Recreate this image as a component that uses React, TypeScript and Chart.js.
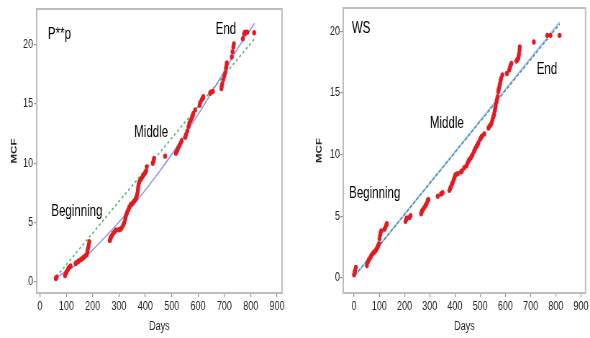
import React, { useEffect, useRef } from "react";
import { Chart, registerables } from "chart.js";

Chart.register(...registerables);

// Axis ticks shared by both panels
const dayTicks = [0, 100, 200, 300, 400, 500, 600, 700, 800, 900];
const mcfTicks = [0, 5, 10, 15, 20];

// P**p: observed cumulative MCF by day
const ppDays = [
  60, 63, 95, 99, 101, 105, 108, 112, 116, 135, 139, 146, 149, 156, 162, 167, 172, 177, 180, 181, 183, 185, 187,
  265, 266, 268, 270, 274, 278, 284, 289, 300, 305, 310, 316, 319, 323, 325, 327, 330, 332, 336, 339, 344, 348,
  352, 357, 361, 364, 367, 369, 371, 372, 373, 375, 377, 381, 386, 390, 395, 399, 403, 405, 428, 431, 433, 475,
  516, 519, 522, 525, 530, 534, 538, 552, 554, 559, 564, 567, 572, 576, 580, 582, 589, 606, 608, 614, 618, 620,
  646, 648, 656, 689, 690, 692, 696, 700, 703, 706, 708, 709, 728, 731, 734, 736, 770, 775, 778, 787, 813,
];
const ppMcf = [
  0.3, 0.4, 0.55, 0.75, 0.87, 1.0, 1.15, 1.25, 1.35, 1.55, 1.63, 1.75, 1.8, 1.9, 2.0, 2.08, 2.2, 2.3, 2.55, 2.7, 2.9, 3.12, 3.4,
  3.5, 3.6, 3.7, 3.82, 3.95, 4.1, 4.25, 4.39, 4.4, 4.45, 4.55, 4.8, 4.95, 5.23, 5.45, 5.65, 5.8, 5.93, 6.1, 6.3, 6.5, 6.58,
  6.65, 6.8, 6.92, 7.05, 7.2, 7.4, 7.6, 7.8, 8.0, 8.25, 8.45, 8.6, 8.75, 8.9, 9.05, 9.2, 9.35, 9.7, 10.0, 10.2, 10.4, 10.6,
  10.85, 11.0, 11.15, 11.3, 11.5, 11.7, 11.9, 12.2, 12.4, 12.7, 13.1, 13.4, 13.6, 13.8, 14.0, 14.2, 14.5, 14.9, 15.1, 15.35, 15.5, 15.6,
  15.9, 16.0, 16.05, 16.3, 16.5, 16.7, 17.05, 17.35, 17.6, 18.0, 18.2, 18.45, 18.95, 19.4, 19.8, 20.05, 20.5, 20.9, 21.05, 21.05, 21.0,
];

// P**p: fitted curve (solid) and straight reference (dashed)
const ppCurveDays = [60, 100, 150, 200, 250, 300, 350, 400, 450, 500, 550, 600, 650, 700, 750, 815];
const ppCurveMcf = [0.35, 0.9, 1.65, 2.7, 3.85, 5.05, 6.35, 7.75, 9.2, 10.75, 12.4, 14.1, 15.9, 17.75, 19.65, 21.8];
const ppLineDays = [62, 815];
const ppLineMcf = [0.45, 20.5];

// WS: observed cumulative MCF by day
const wsDays = [
  0, 2, 4, 7, 51, 55, 58, 62, 66, 69, 75, 80, 84, 88, 92, 95, 99, 101, 103, 105, 108, 121, 124, 128, 130,
  204, 207, 209, 220, 224, 266, 268, 270, 275, 279, 284, 288, 292, 295, 332, 345, 351,
  378, 381, 384, 388, 391, 395, 398, 401, 404, 411, 424, 428, 437, 446, 450, 454, 458, 463, 467, 470, 476,
  481, 486, 490, 493, 499, 503, 507, 516, 533, 537, 542, 546, 549, 552, 555, 557, 559, 561, 562, 565, 567,
  569, 572, 573, 575, 577, 579, 581, 583, 588, 606, 615, 618, 621, 624, 644, 647, 651, 653, 654, 656, 657,
  713, 766, 779, 815,
];
const wsMcf = [
  0.25, 0.45, 0.6, 0.84, 1.0, 1.3, 1.45, 1.56, 1.7, 1.83, 2.0, 2.1, 2.17, 2.3, 2.45, 2.58, 2.77, 3.2, 3.45, 3.65, 3.8, 3.95, 4.1, 4.3, 4.4,
  4.59, 4.75, 4.86, 4.9, 5.05, 5.2, 5.35, 5.45, 5.6, 5.72, 5.9, 6.04, 6.3, 6.34, 6.62, 6.8, 6.9,
  7.1, 7.25, 7.4, 7.6, 7.73, 7.95, 8.13, 8.3, 8.4, 8.45, 8.6, 8.67, 8.94, 9.1, 9.3, 9.48, 9.6, 9.74, 9.9, 10.0, 10.28,
  10.5, 10.68, 10.8, 10.95, 11.22, 11.35, 11.49, 11.67, 12.16, 12.3, 12.43, 12.6, 12.83, 13.05, 13.24, 13.45, 13.64, 13.85, 14.04, 14.3, 14.5,
  14.71, 15.11, 15.25, 15.38, 15.6, 15.78, 16.0, 16.18, 16.46, 16.59, 16.86, 17.05, 17.26, 17.4, 17.6, 17.7, 17.8, 18.0, 18.2, 18.5, 18.74,
  19.14, 19.68, 19.68, 19.68,
];

// WS: fitted line (solid) and reference line (dashed)
const wsFitDays = [3, 815];
const wsFitMcf = [0.15, 20.75];
const wsRefDays = [3, 815];
const wsRefMcf = [0.2, 20.6];

type Note = { text: string; day: number; mcf: number; align: CanvasTextAlign };

const ppNotes: Note[] = [
  { text: "P**p", day: 30, mcf: 20.85, align: "left" },
  { text: "Beginning", day: 140, mcf: 5.9, align: "center" },
  { text: "Middle", day: 422, mcf: 12.6, align: "center" },
  { text: "End", day: 706, mcf: 21.3, align: "center" },
];
const wsNotes: Note[] = [
  { text: "WS", day: -9, mcf: 20.2, align: "left" },
  { text: "Beginning", day: 82, mcf: 6.8, align: "center" },
  { text: "Middle", day: 368, mcf: 12.55, align: "center" },
  { text: "End", day: 765, mcf: 16.9, align: "center" },
];

const FONT = "'Liberation Sans', Arial, sans-serif";
const RED = "#e31a1f";
const FRAME = "#bdbdbd";
const TICK = "#8f8f8f";
const TEXT = "#262626";

// Each panel is drawn wide and compressed horizontally to its slot
const PANEL_W = 410;
const PANEL_H = 338;
const SLOT_W = 295;
const SQUISH = SLOT_W / PANEL_W;

const pairs = (xs: number[], ys: number[]) => xs.map((x, i) => ({ x, y: ys[i] }));

type Panel = {
  slotLeft: number;
  yAxisWidth: number;
  padRight: number;
  padTop: number;
  xMin: number;
  xMax: number;
  yMin: number;
  yMax: number;
  yTitlePad: number;
  yTickPad: number;
  notes: Note[];
  datasets: any[];
};

const panels: Panel[] = [
  {
    slotLeft: 0,
    yAxisWidth: 51,
    padRight: 18,
    padTop: 9,
    xMin: -12.5,
    xMax: 919,
    yMin: -0.93,
    yMax: 23.0,
    yTitlePad: 13,
    yTickPad: 1,
    notes: ppNotes,
    datasets: [
      { data: pairs(ppDays, ppMcf), pointRadius: 2.7, pointBackgroundColor: RED, pointBorderWidth: 0, showLine: false },
      {
        data: pairs(ppLineDays, ppLineMcf),
        showLine: true,
        pointRadius: 0,
        borderColor: "#4fb86a",
        borderWidth: 1.7,
        borderDash: [3, 3],
      },
      {
        data: pairs(ppCurveDays, ppCurveMcf),
        showLine: true,
        pointRadius: 0,
        borderColor: "#8f8ff2",
        borderWidth: 1.5,
        cubicInterpolationMode: "monotone",
      },
    ],
  },
  {
    slotLeft: 295,
    yAxisWidth: 67,
    padRight: 4,
    padTop: 6,
    xMin: -43,
    xMax: 918,
    yMin: -1.23,
    yMax: 21.9,
    yTitlePad: 27.4,
    yTickPad: 0.5,
    notes: wsNotes,
    datasets: [
      { data: pairs(wsDays, wsMcf), pointRadius: 2.7, pointBackgroundColor: RED, pointBorderWidth: 0, showLine: false },
      {
        data: pairs(wsRefDays, wsRefMcf),
        showLine: true,
        pointRadius: 0,
        borderColor: "#3d8fae",
        borderWidth: 1.5,
        borderDash: [4, 2],
      },
      {
        data: pairs(wsFitDays, wsFitMcf),
        showLine: true,
        pointRadius: 0,
        borderColor: "#a9c6f0",
        borderWidth: 2,
      },
    ],
  },
];

function buildChart(canvas: HTMLCanvasElement, p: Panel) {
  const framePlugin = {
    id: "frame",
    afterDraw(chart: any) {
      const { ctx, chartArea: a } = chart;
      ctx.save();
      ctx.strokeStyle = FRAME;
      ctx.lineWidth = 2;
      ctx.strokeRect(a.left, a.top, a.right - a.left, a.bottom - a.top);
      ctx.restore();
    },
  };
  const notesPlugin = {
    id: "stageNotes",
    afterDatasetsDraw(chart: any) {
      const { ctx, scales } = chart;
      ctx.save();
      ctx.fillStyle = "#000000";
      ctx.font = `16px ${FONT}`;
      ctx.textBaseline = "middle";
      for (const n of p.notes) {
        ctx.textAlign = n.align;
        ctx.fillText(n.text, scales.x.getPixelForValue(n.day), scales.y.getPixelForValue(n.mcf));
      }
      ctx.restore();
    },
  };

  return new Chart(canvas, {
    type: "scatter",
    data: { datasets: p.datasets },
    options: {
      animation: false,
      responsive: false,
      maintainAspectRatio: false,
      layout: { padding: { top: p.padTop, right: p.padRight, left: 0, bottom: 0 } },
      plugins: { legend: { display: false }, tooltip: { enabled: false } },
      scales: {
        x: {
          type: "linear",
          min: p.xMin,
          max: p.xMax,
          afterBuildTicks: (s: any) => {
            s.ticks = dayTicks.map((v) => ({ value: v }));
          },
          afterFit: (s: any) => {
            s.height = 45;
          },
          grid: { drawOnChartArea: false, drawTicks: true, tickLength: 4, color: TICK, lineWidth: 1.2 },
          border: { display: false },
          ticks: {
            color: TEXT,
            font: { family: FONT, size: 12.5 },
            padding: 2,
            maxRotation: 0,
            autoSkip: false,
            callback: (v: any) => String(v),
          },
          title: {
            display: true,
            text: "Days",
            color: TEXT,
            font: { family: FONT, size: 12.5 },
            padding: { top: 0, bottom: 3.6 },
          },
        },
        y: {
          type: "linear",
          min: p.yMin,
          max: p.yMax,
          afterBuildTicks: (s: any) => {
            s.ticks = mcfTicks.map((v) => ({ value: v }));
          },
          afterFit: (s: any) => {
            s.width = p.yAxisWidth;
          },
          grid: { drawOnChartArea: false, drawTicks: true, tickLength: 4, color: TICK, lineWidth: 1.2 },
          border: { display: false },
          ticks: {
            color: TEXT,
            font: { family: FONT, size: 12.5 },
            padding: p.yTickPad,
            autoSkip: false,
            callback: (v: any) => String(v),
          },
          title: {
            display: true,
            text: "MCF",
            color: TEXT,
            font: { family: FONT, size: 11.5, weight: "bold" },
            padding: { top: p.yTitlePad, bottom: 0 },
          },
        },
      },
    },
    plugins: [framePlugin, notesPlugin],
  } as any);
}

function PanelChart({ panel }: { panel: Panel }) {
  const ref = useRef<HTMLCanvasElement | null>(null);
  useEffect(() => {
    if (!ref.current) return;
    const chart = buildChart(ref.current, panel);
    return () => chart.destroy();
  }, [panel]);
  return (
    <div
      style={{
        position: "absolute",
        left: panel.slotLeft,
        top: 0,
        width: PANEL_W,
        height: PANEL_H,
        transform: `scaleX(${SQUISH})`,
        transformOrigin: "0 0",
      }}
    >
      <canvas ref={ref} width={PANEL_W} height={PANEL_H} style={{ display: "block" }} />
    </div>
  );
}

export default function App() {
  return (
    <div
      style={{
        position: "absolute",
        left: 0,
        top: 0,
        width: 590,
        height: 338,
        background: "#ffffff",
        overflow: "hidden",
      }}
    >
      {panels.map((p, i) => (
        <PanelChart key={i} panel={p} />
      ))}
    </div>
  );
}
